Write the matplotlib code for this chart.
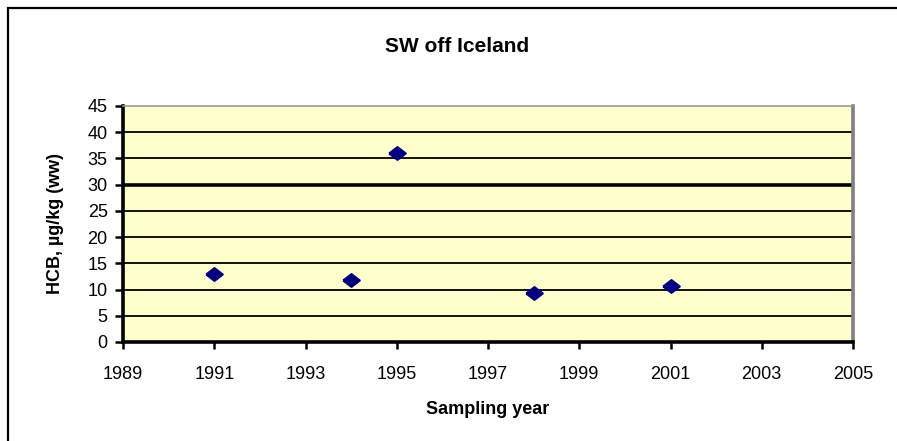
import numpy as np
import matplotlib.pyplot as plt
from matplotlib.patches import Rectangle

plt.rcParams['font.family'] = ['Liberation Sans', 'DejaVu Sans']

# 資料
years = [1991, 1994, 1995, 1998, 2001]
hcb = [13.0, 11.8, 36.0, 9.3, 10.7]
x_ticks = np.arange(1989, 2006, 2)
y_ticks = np.arange(0, 46, 5)

W, H = 897, 441
fig = plt.figure(figsize=(W / 100, H / 100), dpi=100)

# 外框（只看得到上、左兩邊）
frame = Rectangle((8 / W, -0.2), 1.2, (H - 8) / H + 0.2, transform=fig.transFigure,
                  fill=False, edgecolor='black', linewidth=1.6, clip_on=False)
fig.patches.append(frame)

ax = fig.add_axes([123 / W, (H - 342) / H, (853 - 123) / W, (342 - 106) / H])
ax.set_facecolor('#FFFFCC')

for v in y_ticks[1:-1]:
    lw = 2.6 if v == 30 else 1.3
    ax.axhline(v, color='black', linewidth=lw, zorder=1)

# 原圖被橫向拉寬，菱形也跟著扁寬
wide_diamond = [(-1.3, 0), (0, 1), (1.3, 0), (0, -1), (-1.3, 0)]
ax.plot(years, hcb, linestyle='none', marker=wide_diamond, markersize=12,
        color='#000080', markeredgewidth=1.5, zorder=3)

ax.set_xlim(1989, 2005)
ax.set_ylim(0, 45)
ax.set_xticks(x_ticks)
ax.set_yticks(y_ticks)
ax.tick_params(axis='both', direction='out', width=1.8, labelsize=13)
ax.tick_params(axis='y', length=6, pad=5)
ax.tick_params(axis='x', length=5, pad=12)

ax.spines['left'].set_linewidth(2.6)
ax.spines['bottom'].set_linewidth(2.6)
ax.spines['top'].set_color('#999999')
ax.spines['top'].set_linewidth(1.2)
ax.spines['right'].set_color('#808080')
ax.spines['right'].set_linewidth(2.6)

ax.set_xlabel('Sampling year', fontsize=13, fontweight='bold', labelpad=13)
ax.set_ylabel('HCB, µg/kg (ww)', fontsize=13, fontweight='bold', labelpad=17)
fig.text(457 / W, 1 - 46 / H, 'SW off Iceland', ha='center', va='center',
         fontsize=15, fontweight='bold')

plt.savefig('out.png', dpi=100)
